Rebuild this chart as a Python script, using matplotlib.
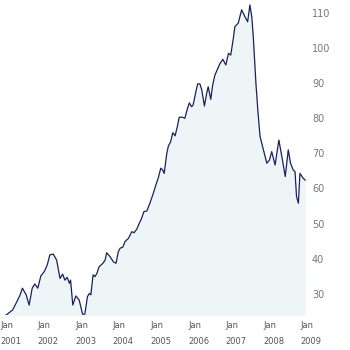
import matplotlib
matplotlib.use("Agg")
import matplotlib.pyplot as plt

# Dates as decimal years
dates = [2001.00, 2001.11, 2001.23, 2001.34, 2001.43, 2001.49, 2001.59, 2001.67, 2001.75, 2001.82,
         2001.90, 2001.98, 2002.07, 2002.15, 2002.22, 2002.31, 2002.40, 2002.49, 2002.56, 2002.62,
         2002.68, 2002.74, 2002.77, 2002.83, 2002.91, 2003.00, 2003.09, 2003.15, 2003.22, 2003.27,
         2003.31, 2003.37, 2003.42, 2003.47, 2003.53, 2003.63, 2003.69, 2003.73, 2003.82, 2003.91,
         2003.98, 2004.04, 2004.09, 2004.16, 2004.22, 2004.31, 2004.40, 2004.46, 2004.53, 2004.60,
         2004.66, 2004.72, 2004.80, 2004.88, 2004.97, 2005.04, 2005.10, 2005.17, 2005.22, 2005.26,
         2005.33, 2005.37, 2005.43, 2005.49, 2005.55, 2005.61, 2005.66, 2005.75, 2005.81, 2005.88,
         2005.93, 2005.99, 2006.03, 2006.11, 2006.15, 2006.21, 2006.26, 2006.33, 2006.39, 2006.43,
         2006.50, 2006.55, 2006.61, 2006.67, 2006.74, 2006.82, 2006.90, 2006.97, 2007.03, 2007.10,
         2007.14, 2007.23, 2007.32, 2007.41, 2007.48, 2007.54, 2007.59, 2007.63, 2007.70, 2007.75,
         2007.81, 2007.90, 2007.99, 2008.06, 2008.12, 2008.21, 2008.31, 2008.39, 2008.48, 2008.56,
         2008.62, 2008.69, 2008.74, 2008.78, 2008.83, 2008.87, 2008.96, 2009.01]
values = [23.5, 24.4, 25.4, 27.7, 29.7, 31.6, 29.7, 26.8, 31.6, 32.8,
          31.6, 35.1, 36.3, 38.2, 41.1, 41.3, 39.6, 34.4, 35.6, 33.9,
          34.7, 33.0, 33.9, 26.8, 29.4, 28.2, 24.2, 24.2, 29.2, 30.1,
          29.7, 35.4, 34.9, 35.8, 37.7, 38.7, 39.6, 41.7, 40.6, 39.1,
          38.7, 42.0, 43.0, 43.3, 44.9, 45.8, 47.7, 47.4, 48.4, 50.1,
          51.5, 53.4, 53.6, 55.8, 58.6, 61.0, 62.9, 65.8, 65.3, 64.3,
          70.0, 72.0, 73.3, 75.9, 75.0, 77.6, 80.3, 80.3, 80.0, 82.8,
          84.4, 83.3, 83.8, 87.9, 89.8, 89.8, 88.1, 83.5, 87.1, 89.0,
          85.4, 89.5, 92.3, 93.8, 95.5, 96.8, 95.2, 98.5, 98.0, 102.8,
          106.1, 107.1, 110.9, 108.9, 107.5, 112.3, 108.9, 103.2, 90.0, 82.4,
          74.8, 71.0, 67.2, 68.1, 70.5, 66.7, 73.8, 69.1, 63.4, 71.0,
          67.2, 65.3, 64.8, 57.7, 55.8, 64.3, 62.9, 62.4]

year_ticks = [2001, 2002, 2003, 2004, 2005, 2006, 2007, 2008, 2009]
y_ticks = [30, 40, 50, 60, 70, 80, 90, 100, 110]

fig = plt.figure(figsize=(3.5, 3.5), dpi=100)
ax = fig.add_axes([0.0, 0.1, 306 / 350, 0.9])

ymin = 23.96
ax.fill_between(dates, values, ymin - 5, color="#eef5f7", lw=0)
ax.plot(dates, values, color="#1b1f5c", lw=0.9)

ax.set_xlim(2000.894, 2009.032)
ax.set_ylim(ymin, 113.7)

for s in ax.spines.values():
    s.set_visible(False)

ax.yaxis.tick_right()
ax.set_yticks(y_ticks)
ax.set_yticklabels([str(v) for v in y_ticks])
ax.tick_params(axis="y", length=0, pad=4.3, labelsize=7, labelcolor="#777777")
ax.set_xticks([])

for yr in year_ticks:
    ax.annotate("Jan", xy=(yr, 0), xycoords=("data", "axes fraction"),
                xytext=(-2.9, -7.2), textcoords="offset points",
                ha="left", va="center", fontsize=6, color="#555555")
    ax.annotate(str(yr), xy=(yr, 0), xycoords=("data", "axes fraction"),
                xytext=(-2.9, -19.4), textcoords="offset points",
                ha="left", va="center", fontsize=6, color="#555555")

fig.savefig("out.png", dpi=100)
